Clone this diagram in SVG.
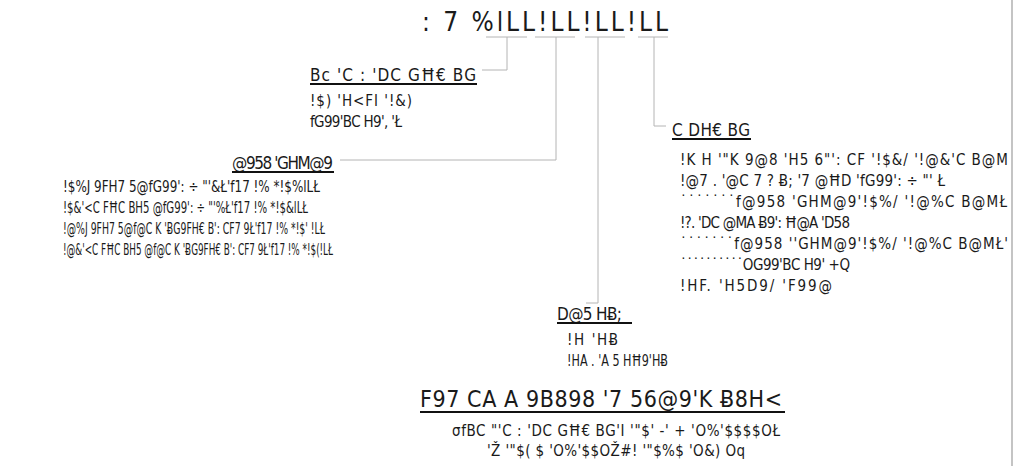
<svg xmlns="http://www.w3.org/2000/svg" width="1014" height="466" viewBox="0 0 1014 466">
<style>
text{font-family:"DejaVu Sans Condensed","DejaVu Sans",sans-serif;font-stretch:condensed;font-weight:300;fill:#1a1a1a}
.t{font-size:26px}
.h{font-size:17px}
.b{font-size:15px}
.bt{font-size:23px}
.c{fill:none;stroke:#b4b4b4;stroke-width:1}
.u{stroke:#111;stroke-width:2}
</style>
<rect width="1014" height="466" fill="#fff"/>
<line x1="1012" y1="0" x2="1012" y2="466" stroke="#c4c4c4" stroke-width="2"/>
<g id="title">
<text class="t" x="422" y="31" textLength="246" lengthAdjust="spacing">: 7 %lLL!LL!LL!LL</text>
</g>
<g id="connectors">
<path class="c" d="M486 37H527M535 37H575M585 37H625M638 37H668"/>
<path class="c" d="M507 37V70H482"/>
<path class="c" d="M556 37V160H340"/>
<path class="c" d="M598 37V303H586"/>
<path class="c" d="M654 37V126H666"/>
</g>
<g id="node1">
<text class="h" x="310" y="81" textLength="166" lengthAdjust="spacing">Bc 'C : 'DC GĦ€ BG</text>
<line class="u" x1="310" y1="84" x2="477" y2="84"/>
<text class="b" x="310" y="106" textLength="102" lengthAdjust="spacing">!$) 'H&lt;FI '!&amp;)</text>
<text class="b" x="310" y="127" textLength="92" lengthAdjust="spacing">fG99'BC H9', 'Ł</text>
</g>
<g id="node2">
<text class="h" x="232" y="169" textLength="101" lengthAdjust="spacing">@958 'GHM@9</text>
<line class="u" x1="232" y1="172" x2="334" y2="172"/>
<text class="b" x="63" y="192" textLength="257" lengthAdjust="spacingAndGlyphs">!$%J 9FH7 5@fG99': ÷ "'&amp;Ł'f17 !% *!$%lLŁ</text>
<text class="b" x="63" y="213" textLength="245" lengthAdjust="spacingAndGlyphs">!$&amp;'&lt;C FĦC BH5 @fG99': ÷ "'%Ł'f17 !% *!$&amp;lLŁ</text>
<text class="b" x="63" y="234" textLength="262" lengthAdjust="spacingAndGlyphs">!@%J 9FH7 5@f@C K 'ɃG9FH€ B': CF7 9Ł'f17 !% *!$' !LŁ</text>
<text class="b" x="63" y="255" textLength="270" lengthAdjust="spacingAndGlyphs">!@&amp;'&lt;C FĦC BH5 @f@C K 'ɃG9FH€ B': CF7 9Ł'f17 !% *!$(!LŁ</text>
</g>
<g id="node3">
<text class="h" x="672" y="136" textLength="78" lengthAdjust="spacing">C DH€ BG</text>
<line class="u" x1="672" y1="139" x2="751" y2="139"/>
<text class="b" x="680" y="165" textLength="328" lengthAdjust="spacing">!K H '"K 9@8 'H5 6"': CF '!$&amp;/ '!@&amp;'C B@M</text>
<text class="b" x="680" y="186" textLength="265" lengthAdjust="spacing">!@7 . '@C 7 ? Ƀ; '7 @ĦD 'fG99': ÷ "' Ł</text>
<text class="b" x="680" y="207" textLength="327" lengthAdjust="spacing">˙˙˙˙˙˙˙f@958 'GHM@9'!$%/ '!@%C B@MŁ</text>
<text class="b" x="680" y="228" textLength="170" lengthAdjust="spacing">!?. 'DC @MA Ƀ9': Ħ@A 'D58</text>
<text class="b" x="680" y="249" textLength="328" lengthAdjust="spacing">˙˙˙˙˙˙˙f@958 ''GHM@9'!$%/ '!@%C B@MŁ'</text>
<text class="b" x="680" y="270" textLength="170" lengthAdjust="spacing">˙˙˙˙˙˙˙˙˙˙OG99'BC H9' +Q</text>
<text class="b" x="680" y="291" textLength="152" lengthAdjust="spacing">!HF. 'H5D9/ 'F99@</text>
</g>
<g id="node4">
<text class="h" x="557" y="320" textLength="65" lengthAdjust="spacing">D@5 HɃ;</text>
<line class="u" x1="557" y1="323" x2="632" y2="323"/>
<text class="b" x="567" y="345" textLength="51" lengthAdjust="spacing">!H 'HɃ</text>
<text class="b" x="567" y="366" textLength="101" lengthAdjust="spacingAndGlyphs">!HA . 'A 5 HĦ9'HɃ</text>
</g>
<g id="node5">
<text class="bt" x="420" y="407" textLength="362" lengthAdjust="spacing">F97 CA A 9B898 '7 56@9'K Ƀ8H&lt;</text>
<line class="u" x1="420" y1="412" x2="785" y2="412"/>
<text class="b" x="452" y="436" textLength="328" lengthAdjust="spacing">σfBC "'C : 'DC GĦ€ BG'I '"$' -' + 'O%'$$$$OŁ</text>
<text class="b" x="487" y="456" textLength="258" lengthAdjust="spacing">'Ž '"$( $ 'O%'$$OŽ#! '"$%$ 'O&amp;) Oq</text>
</g>
</svg>
